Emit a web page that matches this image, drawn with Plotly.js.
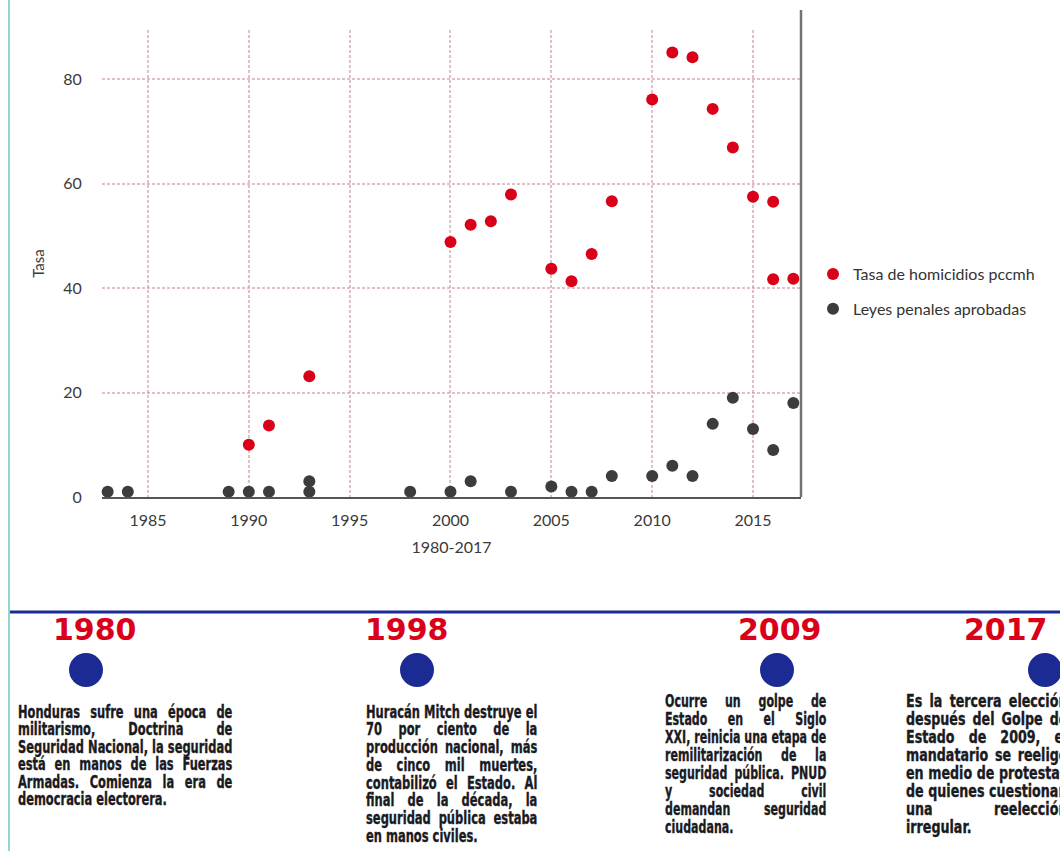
<!DOCTYPE html>
<html>
<head>
<meta charset="utf-8">
<script src="https://cdn.plot.ly/plotly-3.0.1.min.js"></script>
<style>
  html, body { margin: 0; padding: 0; background: #fff; overflow: hidden; }
  #wrap { position: relative; width: 1060px; height: 851px; overflow: hidden; }
  #chart { position: absolute; left: 0; top: 0; width: 1060px; height: 851px; }
  .para { position: absolute; font-family: "Liberation Sans Narrow", "DejaVu Sans Condensed", "Liberation Sans", sans-serif;
          font-weight: bold; color: #1a1a22; -webkit-text-stroke: 0.35px #1a1a22; }
  .para .ln { white-space: nowrap; transform-origin: 0 0; text-align: justify; text-align-last: justify; }
  .para .ln.last { text-align-last: left; text-align: left; }
  .measure { position: absolute; visibility: hidden; white-space: nowrap; display: inline-block; }
</style>
</head>
<body>
<div id="wrap">
  <div id="chart"></div>
</div>
<script>
// ---------------- DATA ----------------
const tasaYears  = [1990, 1991, 1993, 2000, 2001, 2002, 2003, 2005, 2006, 2007, 2008, 2010, 2011, 2012, 2013, 2014, 2015, 2016, 2016, 2017];
const tasaValues = [10.0, 13.7, 23.1, 48.8, 52.1, 52.8, 57.9, 43.7, 41.3, 46.5, 56.6, 76.1, 85.1, 84.2, 74.3, 66.9, 57.5, 56.5, 41.7, 41.8];

const leyesYears  = [1983, 1984, 1989, 1990, 1991, 1993, 1993, 1998, 2000, 2001, 2003, 2005, 2006, 2007, 2008, 2010, 2011, 2012, 2013, 2014, 2015, 2016, 2017];
const leyesValues = [1, 1, 1, 1, 1, 1, 3, 1, 1, 3, 1, 2, 1, 1, 4, 4, 6, 4, 14, 19, 13, 9, 18];

const seriesNames = ["Tasa de homicidios pccmh", "Leyes penales aprobadas"];
const yTitle = "Tasa";
const xTitle = "1980-2017";

const timelineYears = ["1980", "1998", "2009", "2017"];
const timelineTexts = [
  ["Honduras sufre una época de", "militarismo, Doctrina de", "Seguridad Nacional, la seguridad",
   "está en manos de las Fuerzas", "Armadas. Comienza la era de", "democracia electorera."],
  ["Huracán Mitch destruye el", "70 por ciento de la", "producción nacional, más",
   "de cinco mil muertes,", "contabilizó el Estado. Al", "final de la década, la",
   "seguridad pública estaba", "en manos civiles."],
  ["Ocurre un golpe de", "Estado en el Siglo", "XXI, reinicia una etapa de",
   "remilitarización de la", "seguridad pública. PNUD", "y sociedad civil",
   "demandan seguridad", "ciudadana."],
  ["Es la tercera elección", "después del Golpe de", "Estado de 2009, el",
   "mandatario se reelige", "en medio de protestas", "de quienes cuestionan",
   "una reelección", "irregular."]
];

// ---------------- LAYOUT GEOMETRY ----------------
const W = 1060, H = 851;
const M = { l: 102, r: 259, t: 30, b: 354 };
const plotW = W - M.l - M.r, plotH = H - M.t - M.b;
const px2x = px => (px - M.l) / plotW;
const px2y = py => (H - M.b - py) / plotH;

const RED = "#da0019", GRAY = "#3c3c3c", BLUE = "#1c2a94";
const GRID = "rgba(200,140,145,0.55)";

// timeline geometry (pixels)
const tlLineY = 612;
const yearPos = [[95, 629], [407, 629], [780, 629], [1006, 629]];
const circlePos = [[86, 670], [417, 670], [777, 670], [1045, 670]];
const circleR = 17;
const paraBoxes = [
  { left: 18,  width: 214, top: 703.8, lh: 17.5 },
  { left: 366, width: 171, top: 703.5, lh: 17.75 },
  { left: 665, width: 161, top: 691.8, lh: 18.1 },
  { left: 906, width: 161, top: 691.8, lh: 18.1 }
];

const traces = [
  { type: "scatter", mode: "markers", x: tasaYears, y: tasaValues, name: seriesNames[0],
    legendgroup: "a", cliponaxis: false, marker: { color: RED, size: 12 } },
  { type: "scatter", mode: "markers", x: leyesYears, y: leyesValues, name: seriesNames[1],
    legendgroup: "b", cliponaxis: false, marker: { color: GRAY, size: 12 } }
];

const shapes = [
  // right frame line
  { type: "line", xref: "paper", yref: "paper", x0: 1, x1: 1, y0: 0, y1: px2y(10),
    line: { color: "#747474", width: 2.5 } },
  // left teal border
  { type: "line", xref: "paper", yref: "paper", x0: px2x(9), x1: px2x(9), y0: px2y(0), y1: px2y(851),
    line: { color: "#74c6bd", width: 1.5 } },
  // timeline line
  { type: "line", xref: "paper", yref: "paper", x0: px2x(10), x1: px2x(1062), y0: px2y(tlLineY), y1: px2y(tlLineY),
    line: { color: BLUE, width: 3 } }
];
circlePos.forEach(c => shapes.push({
  type: "circle", xref: "paper", yref: "paper",
  x0: px2x(c[0] - circleR), x1: px2x(c[0] + circleR),
  y0: px2y(c[1] + circleR), y1: px2y(c[1] - circleR),
  fillcolor: BLUE, line: { width: 0 }
}));

const annotations = timelineYears.map((t, i) => ({
  text: t, xref: "paper", yref: "paper", x: px2x(yearPos[i][0]), y: px2y(yearPos[i][1]),
  xanchor: "center", yanchor: "middle", showarrow: false,
  font: { family: "DejaVu Sans", size: 30, color: RED, weight: "bold" }
}));

const layout = {
  width: W, height: H,
  margin: M,
  paper_bgcolor: "#fff", plot_bgcolor: "#fff",
  font: { family: "Lato, sans-serif", color: "#3a3a3a", size: 16 },
  showlegend: true,
  legend: { xref: "container", yref: "container", x: 813 / W, y: 1 - 257 / H,
            xanchor: "left", yanchor: "top", font: { family: "Lato", size: 16, color: "#333" },
            tracegroupgap: 11, bgcolor: "rgba(0,0,0,0)" },
  xaxis: {
    range: [1982.72, 2017.38], tick0: 1985, dtick: 5, showgrid: true,
    gridcolor: GRID, gridwidth: 2, griddash: "3px,2px",
    showline: true, linecolor: "#555", linewidth: 2, zeroline: false,
    ticks: "outside", ticklen: 8, tickcolor: "rgba(0,0,0,0)",
    tickfont: { family: "Lato", size: 16, color: "#3a3a3a" },
    title: { text: xTitle, font: { family: "Lato", size: 16, color: "#3a3a3a" }, standoff: 14 }
  },
  yaxis: {
    range: [0, 89.4], tick0: 0, dtick: 20, showgrid: true,
    gridcolor: GRID, gridwidth: 2, griddash: "3px,2px",
    showline: false, zeroline: false,
    ticks: "outside", ticklen: 16, tickcolor: "rgba(0,0,0,0)",
    tickfont: { family: "Lato", size: 16, color: "#3a3a3a" },
    title: { text: yTitle, font: { family: "Lato", size: 15, color: "#3a3a3a" }, standoff: 14 }
  },
  shapes: shapes,
  annotations: annotations
};

Plotly.newPlot("chart", traces, layout, { displayModeBar: false, staticPlot: true }).then(() => {
  const wrap = document.getElementById("wrap");
  const fontSize = 17;
  timelineTexts.forEach((lines, bi) => {
    const box = paraBoxes[bi];
    const meas = document.createElement("span");
    meas.className = "para measure";
    meas.style.fontSize = fontSize + "px";
    wrap.appendChild(meas);
    let maxW = 0;
    lines.forEach((ln, i) => {
      if (i === lines.length - 1) return;
      meas.textContent = ln;
      maxW = Math.max(maxW, meas.getBoundingClientRect().width);
    });
    wrap.removeChild(meas);
    const s = box.width / maxW;
    const div = document.createElement("div");
    div.className = "para";
    div.style.left = box.left + "px";
    div.style.top = box.top + "px";
    div.style.fontSize = fontSize + "px";
    lines.forEach((ln, i) => {
      const d = document.createElement("div");
      d.className = "ln" + (i === lines.length - 1 ? " last" : "");
      d.textContent = ln;
      d.style.width = (box.width / s + 0.5) + "px";
      d.style.height = box.lh + "px";
      d.style.lineHeight = box.lh + "px";
      d.style.transform = "scaleX(" + s + ")";
      div.appendChild(d);
    });
    wrap.appendChild(div);
  });
});
</script>
</body>
</html>
